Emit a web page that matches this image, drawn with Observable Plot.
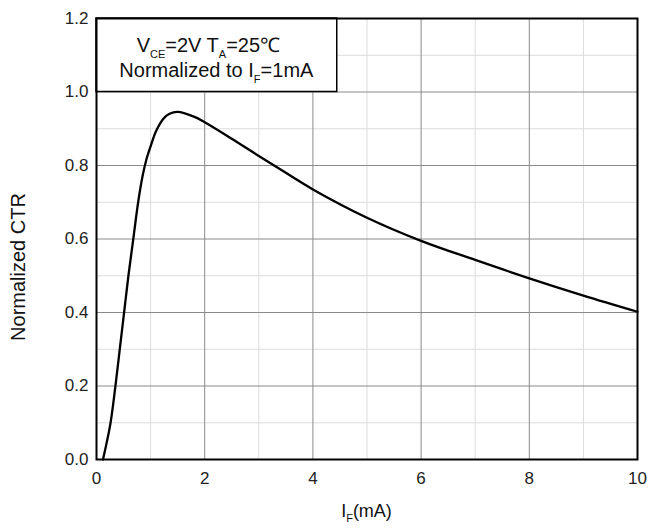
<!DOCTYPE html>
<html>
<head>
<meta charset="utf-8">
<script src="https://cdn.jsdelivr.net/npm/d3@7"></script>
<script src="https://cdn.jsdelivr.net/npm/@observablehq/plot@0.6"></script>
<style>
  html, body { margin: 0; padding: 0; background: #fff; }
  #chart { width: 648px; height: 529px; }
  svg { font-family: "Liberation Sans", Arial, sans-serif; }
</style>
</head>
<body>
<div id="chart"></div>
<script>
// Data
const ifCurrent = [0.12, 0.18, 0.26, 0.35, 0.43, 0.51, 0.59, 0.68, 0.77, 0.85, 0.92, 1.0, 1.1, 1.24, 1.35, 1.5, 1.8, 2.0, 2.5, 3.0, 3.5, 4.0, 5.0, 6.0, 7.0, 8.0, 9.0, 10.0];
const normalizedCtr = [0, 0.04, 0.1, 0.2, 0.3, 0.4, 0.5, 0.6, 0.7, 0.77, 0.815, 0.852, 0.893, 0.928, 0.941, 0.946, 0.933, 0.918, 0.873, 0.826, 0.78, 0.735, 0.658, 0.595, 0.543, 0.493, 0.446, 0.402];

const xMajorTicks = [0, 2, 4, 6, 8, 10];
const xMinorTicks = [1, 3, 5, 7, 9];
const yMajorTicks = [0, 0.2, 0.4, 0.6, 0.8, 1.0, 1.2];
const yMinorTicks = [0.1, 0.3, 0.5, 0.7, 0.9, 1.1];

const yLabel = "Normalized CTR";
const xLabelMain = "I", xLabelSub = "F", xLabelUnit = "(mA)";
const legendLine1 = [["V", false], ["CE", true], ["=2V T", false], ["A", true], ["=25℃", false]];
const legendLine2 = [["Normalized to I", false], ["F", true], ["=1mA", false]];
// legend box extent in data units (x from 0 to 4.45, y from 1.0 to 1.2)
const legendBox = {x1: 0, x2: 4.45, y1: 1.0, y2: 1.2};

const data = ifCurrent.map((x, i) => ({x, y: normalizedCtr[i]}));

const plot = Plot.plot({
  width: 648,
  height: 529,
  marginLeft: 96,
  marginRight: 11,
  marginTop: 18,
  marginBottom: 70,
  style: {fontFamily: '"Liberation Sans", Arial, sans-serif', fontSize: "17px", background: "#fff", color: "#222"},
  x: {domain: [0, 10]},
  y: {domain: [0, 1.2]},
  marks: [
    Plot.gridX(xMinorTicks, {stroke: "#dcdcdc", strokeOpacity: 1, strokeWidth: 1}),
    Plot.gridY(yMinorTicks, {stroke: "#dcdcdc", strokeOpacity: 1, strokeWidth: 1}),
    Plot.gridX(xMajorTicks, {stroke: "#8a8a8a", strokeOpacity: 1, strokeWidth: 1}),
    Plot.gridY(yMajorTicks, {stroke: "#8a8a8a", strokeOpacity: 1, strokeWidth: 1}),
    Plot.line(data, {x: "x", y: "y", curve: "catmull-rom", stroke: "#000", strokeWidth: 2.3}),
    Plot.axisX(xMajorTicks, {tickSize: 0, tickPadding: 12, fontSize: 17, label: null, fill: "#222"}),
    Plot.axisY(yMajorTicks, {tickSize: 0, tickPadding: 8, fontSize: 17, tickFormat: d3.format(".1f"), label: null, fill: "#222"}),
    Plot.frame({stroke: "#000", strokeWidth: 2})
  ]
});

document.getElementById("chart").appendChild(plot);

const sx = plot.scale("x"), sy = plot.scale("y");
const svg = d3.select(plot);
const frameNode = plot.querySelector('[aria-label="frame"]');

// Legend box
const lg = d3.create("svg:g");
const bx1 = sx.apply(legendBox.x1), bx2 = sx.apply(legendBox.x2);
const by1 = sy.apply(legendBox.y2), by2 = sy.apply(legendBox.y1);
lg.append("rect")
  .attr("x", bx1).attr("y", by1)
  .attr("width", bx2 - bx1).attr("height", by2 - by1)
  .attr("fill", "#fff").attr("stroke", "#000").attr("stroke-width", 1.5);

function richText(g, parts, x, y, size, subSize) {
  const t = g.append("text")
    .attr("x", x).attr("y", y)
    .attr("text-anchor", "middle")
    .attr("font-size", size)
    .attr("fill", "#111");
  let prevSub = false;
  parts.forEach(([s, sub]) => {
    const ts = t.append("tspan").text(s);
    if (sub && !prevSub) ts.attr("dy", 6).attr("font-size", subSize);
    else if (!sub && prevSub) ts.attr("dy", -6);
    prevSub = sub;
  });
  return t;
}
const bcx = (bx1 + bx2) / 2;
richText(lg, legendLine1, bcx - 8, by1 + 34, 20, 11);
richText(lg, legendLine2, bcx, by1 + 59, 20, 11);
plot.insertBefore(lg.node(), frameNode);

// Axis labels
const xr = sx.range;
const xl = svg.append("text")
  .attr("x", (xr[0] + xr[1]) / 2).attr("y", 517)
  .attr("text-anchor", "middle").attr("font-size", 18).attr("fill", "#111");
xl.append("tspan").text(xLabelMain);
xl.append("tspan").text(xLabelSub).attr("font-size", 11).attr("dy", 5);
xl.append("tspan").text(xLabelUnit).attr("dy", -5);

svg.append("text")
  .attr("transform", `translate(25, 267) rotate(-90)`)
  .attr("text-anchor", "middle").attr("font-size", 20).attr("fill", "#111")
  .text(yLabel);
</script>
</body>
</html>
